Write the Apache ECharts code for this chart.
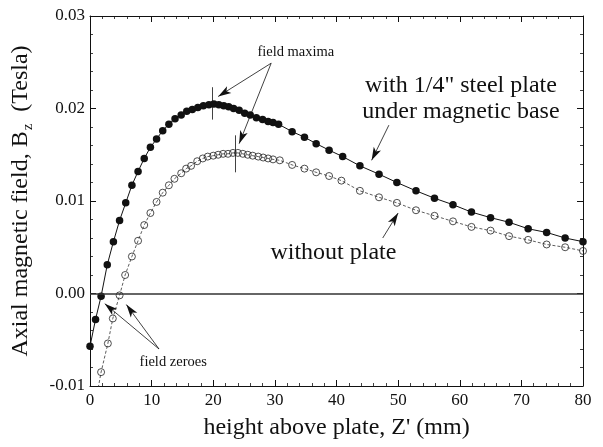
<!DOCTYPE html>
<html>
<head>
<meta charset="utf-8">
<script src="https://cdn.jsdelivr.net/npm/echarts@6/dist/echarts.min.js"></script>
<style>
html,body{margin:0;padding:0;background:#fff;}
#chart{width:603px;height:447px;}
</style>
</head>
<body>
<div id="chart"></div>
<script>
// ---- data ----
var withPlateZ = [0,0.9,1.8,2.8,3.8,4.8,5.8,6.8,7.8,8.8,9.8,10.8,11.8,12.8,13.8,14.8,15.7,16.6,17.5,18.4,19.3,20.1,20.9,21.7,22.5,23.3,24.2,25.1,26.0,27.0,28.0,28.9,29.7,30.6,32.8,34.8,36.7,38.8,41.0,43.8,46.9,49.8,52.9,55.9,58.9,61.9,65.0,68.0,71.1,74.1,77.1,80];
var withPlateB = [-0.0057,-0.0028,-0.0003,0.0031,0.0056,0.0079,0.0098,0.0117,0.0132,0.0146,0.0158,0.0167,0.0176,0.0183,0.0189,0.0193,0.0197,0.0199,0.0201,0.0203,0.0204,0.0205,0.0204,0.0203,0.0202,0.0200,0.0198,0.0195,0.0193,0.0190,0.0188,0.0186,0.0185,0.0183,0.0175,0.0169,0.0162,0.0155,0.0148,0.0138,0.0129,0.0120,0.0111,0.0103,0.0096,0.0088,0.0082,0.0077,0.0070,0.0066,0.0060,0.0056];
var withoutZ = [0.9,1.8,2.9,3.7,4.8,5.7,6.8,7.8,8.8,9.8,10.8,11.8,12.8,13.7,14.8,15.6,16.4,17.4,18.3,19.1,20.0,20.8,21.6,22.4,23.2,24.0,24.8,25.6,26.4,27.3,28.1,28.9,29.7,30.8,32.8,34.8,36.7,38.8,40.8,43.8,46.9,49.8,52.9,55.9,58.9,61.9,65.0,68.0,71.1,74.1,77.1,80];
var withoutB = [-0.0118,-0.0085,-0.0054,-0.0027,-0.0002,0.0020,0.0040,0.0057,0.0074,0.0087,0.0099,0.0109,0.0117,0.0124,0.0130,0.0135,0.0138,0.0143,0.0146,0.0148,0.0149,0.0150,0.0151,0.0151,0.0152,0.0152,0.0151,0.0150,0.0149,0.0148,0.0147,0.0146,0.0145,0.0144,0.0139,0.0135,0.0131,0.0127,0.0122,0.0111,0.0104,0.0098,0.0090,0.0084,0.0078,0.0072,0.0068,0.0062,0.0058,0.0053,0.0050,0.0046];

var xTicks = [0,10,20,30,40,50,60,70,80];
var yTicks = [-0.01,0.00,0.01,0.02,0.03];

// peak markers (Z, Bfrom, Bto) and annotation anchors in data units
var peakMarks = [[19.9,0.0223,0.0188],[23.5,0.0171,0.0131]];
var arrows = [
  [[29.4,0.0249],[20.8,0.0213]],
  [[29.4,0.0249],[24.2,0.0162]],
  [[48.5,0.0182],[45.7,0.0144]],
  [[47.5,0.0060],[50.0,0.0087]],
  [[11.2,-0.0060],[2.4,-0.0011]],
  [[11.2,-0.0060],[5.9,-0.0012]]
];
var notes = [
  {t:'field maxima', at:[33.4,0.0261], size:14.5},
  {t:'with 1/4" steel plate', at:[60.2,0.0225], size:24},
  {t:'under magnetic base', at:[60.2,0.0197], size:24},
  {t:'without plate', at:[39.5,0.0044], size:24},
  {t:'field zeroes', at:[13.5,-0.0074], size:14.5}
];

function zip(a,b){ return a.map(function(v,i){return [v,b[i]];}); }
var FONT = '"Liberation Serif","DejaVu Serif",serif';
var INK = '#111';

var chart = echarts.init(document.getElementById('chart'), null, {renderer:'canvas'});

var mlData = [];
mlData.push([{coord:[0,0],symbol:'none',lineStyle:{color:'#333',width:1.6,type:'solid'}},{coord:[80,0],symbol:'none'}]);
peakMarks.forEach(function(p){
  mlData.push([{coord:[p[0],p[1]],symbol:'none',lineStyle:{color:INK,width:0.8,type:'solid'}},{coord:[p[0],p[2]],symbol:'none'}]);
});
arrows.forEach(function(a){
  mlData.push([{coord:a[0],symbol:'none',lineStyle:{color:INK,width:0.8,type:'solid'}},{coord:a[1],symbol:'arrow',symbolSize:[6,13]}]);
});

function axisCommon(){
  return {
    axisLine:{show:true,onZero:false,lineStyle:{color:INK,width:1}},
    axisTick:{show:true,inside:true,length:6,lineStyle:{color:INK,width:1}},
    minorTick:{show:true,splitNumber:5,length:3,lineStyle:{color:INK,width:0.8}},
    splitLine:{show:false}
  };
}

var xBottom = Object.assign(axisCommon(), {
  type:'value', position:'bottom', min:0, max:80, interval:10,
  axisLabel:{show:true,color:INK,fontFamily:FONT,fontSize:17,margin:6,
    formatter:function(v){ return xTicks.indexOf(v)>=0 ? String(v) : ''; }},
  name:"height above plate, Z' (mm)", nameLocation:'middle', nameGap:30,
  nameTextStyle:{color:INK,fontFamily:FONT,fontSize:24}
});
var xTop = Object.assign(axisCommon(), {
  type:'value', position:'top', min:0, max:80, interval:10, axisLabel:{show:false}
});
var yLeft = Object.assign(axisCommon(), {
  type:'value', position:'left', min:-0.01, max:0.03, interval:0.01,
  axisLabel:{show:true,color:INK,fontFamily:FONT,fontSize:17,margin:5,
    formatter:function(v){ return v.toFixed(2); }},
  name:'{a|Axial magnetic field, B}{s|z}{a|  (Tesla)}', nameLocation:'middle', nameGap:54, nameRotate:90,
  nameTextStyle:{color:INK,fontFamily:FONT,fontSize:24,
    rich:{a:{fontFamily:FONT,fontSize:24,color:INK,lineHeight:30},
          s:{fontFamily:FONT,fontSize:15,color:INK,lineHeight:30,verticalAlign:'bottom',padding:[9,0,0,1]}}}
});
var yRight = Object.assign(axisCommon(), {
  type:'value', position:'right', min:-0.01, max:0.03, interval:0.01, axisLabel:{show:false}
});

chart.setOption({
  animation:false,
  backgroundColor:'#fff',
  grid:{left:90,right:20,top:16,bottom:61,containLabel:false},
  xAxis:[xBottom,xTop],
  yAxis:[yLeft,yRight],
  series:[
    {
      name:'with plate', type:'line', xAxisIndex:0, yAxisIndex:0,
      data:zip(withPlateZ,withPlateB),
      symbol:'circle', symbolSize:7.5, clip:true,
      itemStyle:{color:INK,borderColor:INK,borderWidth:0},
      lineStyle:{color:INK,width:1},
      z:3,
      markLine:{silent:true,animation:false,label:{show:false},symbol:['none','none'],
        emphasis:{disabled:true}, data:mlData}
    },
    {
      name:'without plate', type:'line', xAxisIndex:0, yAxisIndex:0,
      data:zip(withoutZ,withoutB),
      symbol:'circle', symbolSize:7, clip:true,
      itemStyle:{color:'rgba(255,255,255,0)',borderColor:'#222',borderWidth:0.8},
      lineStyle:{color:'#333',width:0.8,type:[3,2]},
      z:2
    }
  ]
});

var g = notes.map(function(n){
  var p = chart.convertToPixel({gridIndex:0}, n.at);
  return {type:'text', x:p[0], y:p[1], silent:true,
    style:{text:n.t, fill:INK, font:n.size+'px '+FONT, align:'center', verticalAlign:'middle'}};
});
chart.setOption({graphic:g});
</script>
</body>
</html>
